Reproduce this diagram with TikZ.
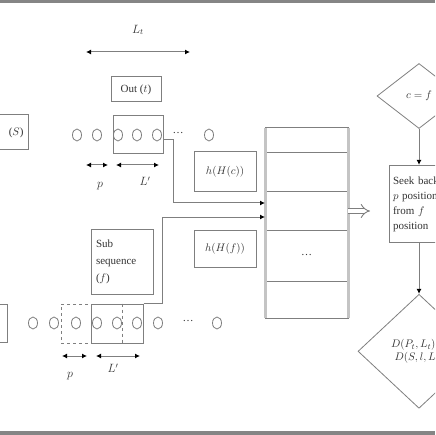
\documentclass[tikz,border=0pt]{standalone}
\usepackage{fontspec}
\setmainfont{Liberation Serif}
\usetikzlibrary{arrows.meta,positioning,shapes.geometric,calc}
\definecolor{edge}{HTML}{7F7F7F}
\definecolor{side}{HTML}{C4C4C4}
\definecolor{ink}{HTML}{333333}
\definecolor{rule}{HTML}{858585}

\begin{document}
\begin{tikzpicture}[
  x=1pt, y=-1pt,
  font=\fontsize{11}{13}\selectfont, text=ink,
  box/.style={draw=edge, line width=1pt, minimum width=62pt, inner sep=3pt, align=center},
  dot/.style={ellipse, draw=edge, line width=0.8pt, minimum width=9pt, minimum height=12pt, inner sep=0pt},
  win/.style={draw=edge, line width=1pt, minimum height=39pt, inner sep=0pt},
  cell/.style={draw=edge, line width=1pt, minimum width=83pt, inner sep=0pt, outer sep=0pt},
  decide/.style={diamond, draw=edge, line width=0.8pt, inner sep=0pt, align=center},
  arr/.style={draw=edge, line width=1pt, -{Latex[length=5pt,width=5pt,color=black]}},
  dim/.style={draw=edge, line width=1pt, {Latex[length=5pt,width=5pt,color=black]}-{Latex[length=5pt,width=5pt,color=black]}}
]
  \clip (0,0) rectangle (435,435);
  \fill[rule] (0,0) rectangle (435,3);
  \fill[rule] (0,431) rectangle (435,435);

  % upper sequence
  \coordinate (lt1) at (86,52);
  \coordinate (lt2) at (190,52);
  \draw[dim] (lt1) -- (lt2);
  \node (lt) at (138,30) {\large$L_t$};
  \node[box, minimum width=50pt, minimum height=25pt] (out) at (136,89.5) {Out ($t$)};
  \node[box, anchor=east, minimum width=60pt, minimum height=35pt, text width=50pt, align=right] (sl) at (29,132.5) {($S$)};
  \foreach \x [count=\i] in {77,97,118,137,157,209}
    \node[dot] (t\i) at (\x,135) {};
  \node (tdots) at (178,133) {\dots};
  \node[win, minimum width=50pt, minimum height=38pt] (win1) at (138,135) {};
  \coordinate (tp1) at (86,165);
  \coordinate (tp2) at (108,165);
  \coordinate (tl1) at (116,165);
  \coordinate (tl2) at (159,165);
  \draw[dim] (tp1) -- (tp2);
  \draw[dim] (tl1) -- (tl2);
  \node (tp) at (100,186) {\large$p$};
  \node (tl) at (145,181) {\large$L'$};
  \node[box, minimum height=40pt] (hc) at (225,172) {$h(H(c))$};

  % lower sequence
  \node[box, minimum height=65pt, text width=52pt, align=left, font=\fontsize{11}{17}\selectfont] (sub) at (122,261.5) {Sub\\sequence\\($f$)};
  \node[box, minimum height=37pt] (hf) at (225,248.5) {$h(H(f))$};
  \node[box, anchor=east, minimum width=40pt, minimum height=38pt] (sl2) at (8,323) {};
  \foreach \x [count=\i] in {33,54,76,97,117,137,158,217}
    \node[dot] (b\i) at (\x,323) {};
  \node (bdots) at (188,321) {\dots};
  \node[win, dashed, line width=0.8pt, minimum width=30pt] (shift) at (76,323.5) {};
  \node[win, minimum width=52pt] (win2) at (117,323.5) {};
  \draw[draw=edge, dashed, line width=0.8pt] ($(win2.north west)+(32,0)$) -- ($(win2.south west)+(32,0)$);
  \coordinate (bp1) at (62,356);
  \coordinate (bp2) at (87,356);
  \coordinate (bl1) at (96,356);
  \coordinate (bl2) at (140,356);
  \draw[dim] (bp1) -- (bp2);
  \draw[dim] (bl1) -- (bl2);
  \node (bp) at (70,376) {\large$p$};
  \node (bl) at (113,368) {\large$L'$};

  % hash table
  \node[cell, minimum height=25pt] (c1) at (306.5,140.5) {};
  \node[cell, minimum height=39pt, below=0pt of c1] (c2) {};
  \node[cell, minimum height=38pt, below=0pt of c2] (c3) {};
  \node[cell, minimum height=51pt, below=0pt of c3] (c4) {\dots};
  \node[cell, minimum height=37pt, below=0pt of c4] (c5) {};
  \draw[side, line width=3pt] (c1.north west) -- (c5.south west);
  \draw[side, line width=3pt] (c1.north east) -- (c5.south east);
  \coordinate (in1) at ([yshift=8pt]c3.west);
  \coordinate (in2) at ([yshift=-6pt]c3.west);
  \draw[arr] ([yshift=-5pt]win1.east) -- ++(10,0) |- (in1);
  \draw[arr] (win2.north east) -- ++(19,0) |- (in2);
  \draw[draw=edge, line width=0.9pt, double=white, double distance=4pt, -{Implies}] (c3.east) -- ++(22,0);

  % decisions
  \node[decide, minimum width=84pt, minimum height=65pt] (d1) at (419,96) {$c=f$};
  \node[box, minimum width=60pt, minimum height=77pt, text width=52pt, align=left, font=\fontsize{11}{15}\selectfont, below=36pt of d1] (seek) {Seek back\\$p$ positions\\from $f$\\position};
  \node[decide, minimum width=122pt, minimum height=114pt, below=51pt of seek] (d2) {$D(P_t,L_t)=$\\$D(S,l,L_t)$};
  \draw[arr] (d1) -- (seek);
  \draw[arr] (seek) -- (d2);
\end{tikzpicture}
\end{document}
